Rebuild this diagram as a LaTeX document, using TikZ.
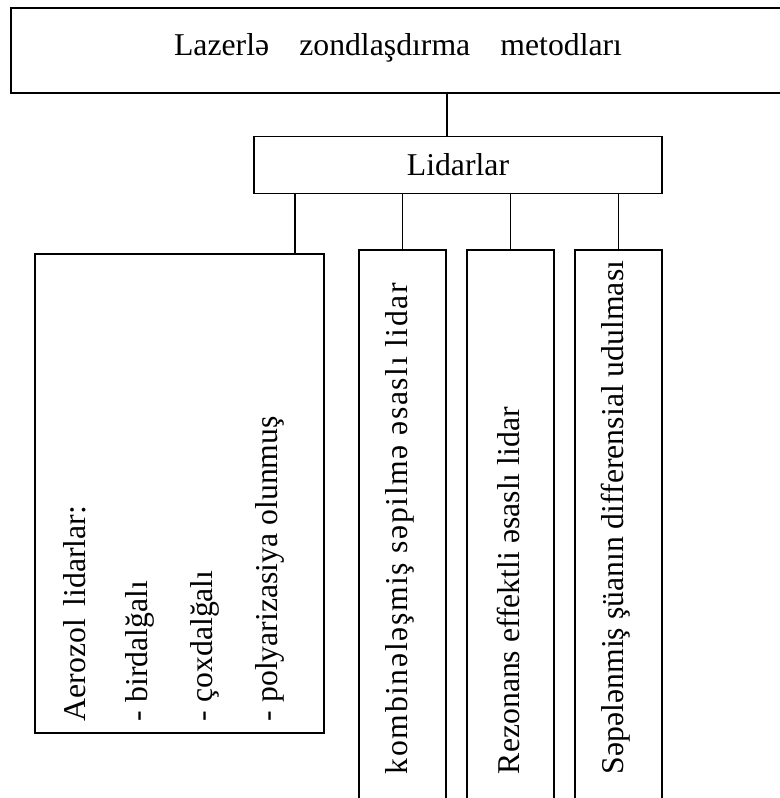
\documentclass[tikz,border=0pt]{standalone}
\usepackage{fontspec}
\setmainfont{Liberation Serif}

\tikzset{every picture/.style={line width=1.4pt}}
\tikzset{
  box/.style={draw, rectangle, inner sep=0pt, font=\fontsize{23.8}{28}\selectfont},
  vtext/.style={rotate=90, anchor=west, inner sep=0pt, font=\fontsize{23.8}{28}\selectfont},
}

\begin{document}
\begin{tikzpicture}[x=0.75pt,y=0.75pt,yscale=-1,xscale=1]
\useasboundingbox (0,0) rectangle (780,798);

%Shape: Rectangle [top level, runs past the right edge]
\node[box, minimum width=580.5pt, minimum height=63.75pt, text depth=9pt] (methods) at (398,50.5) {Lazerlə\hspace{0.7em} zondlaşdırma\hspace{0.7em} metodları};
%Shape: Rectangle
\node[box, minimum width=306pt, minimum height=42.75pt] (lidars) at (458,165) {Lidarlar};
%Shape: Rectangle [aerosol group]
\node[box, minimum width=216.75pt, minimum height=359.25pt] (aero) at (179.5,493.5) {};

% tops of the open boxes and the stem position
\coordinate (stem) at (447,0);
\coordinate (aerodrop) at (295,0);
\coordinate (kb) at (402.5,250);
\coordinate (rz) at (510.5,250);
\coordinate (sp) at (618.5,250);

%Shape: open boxes, cut by the bottom edge
\draw (359,806) |- (446,250) -- (446,806);
\draw (467,806) |- (554,250) -- (554,806);
\draw (575,806) |- (662,250) -- (662,806);

%Straight Lines
\draw (methods.south -| stem) -- (lidars.north -| stem);
\draw (lidars.south -| aerodrop) -- (aero.north -| aerodrop);
\draw (lidars.south -| kb) -- (kb);
\draw (lidars.south -| rz) -- (rz);
\draw (lidars.south -| sp) -- (sp);

% Text Node
\node[vtext] (aer1) at (75,722) {Aerozol\hspace{0.15em} lidarlar:};
\node[vtext] (aer2) at (140,722) {- birdalğalı};
\node[vtext] (aer3) at (205,722) {- çoxdalğalı};
\node[vtext] (aer4) at (270,722) {- polyarizasiya olunmuş};
% Text Node
\node[vtext] (kbtext) at (400,775) {\addfontfeatures{LetterSpace=5}kombinələşmiş səpilmə əsaslı lidar};
\node[vtext] (rztext) at (508,775) {Rezonans effektli əsaslı lidar};
\node[vtext] (sptext) at (616,775) {Səpələnmiş şüanın differensial udulması};

\end{tikzpicture}
\end{document}
